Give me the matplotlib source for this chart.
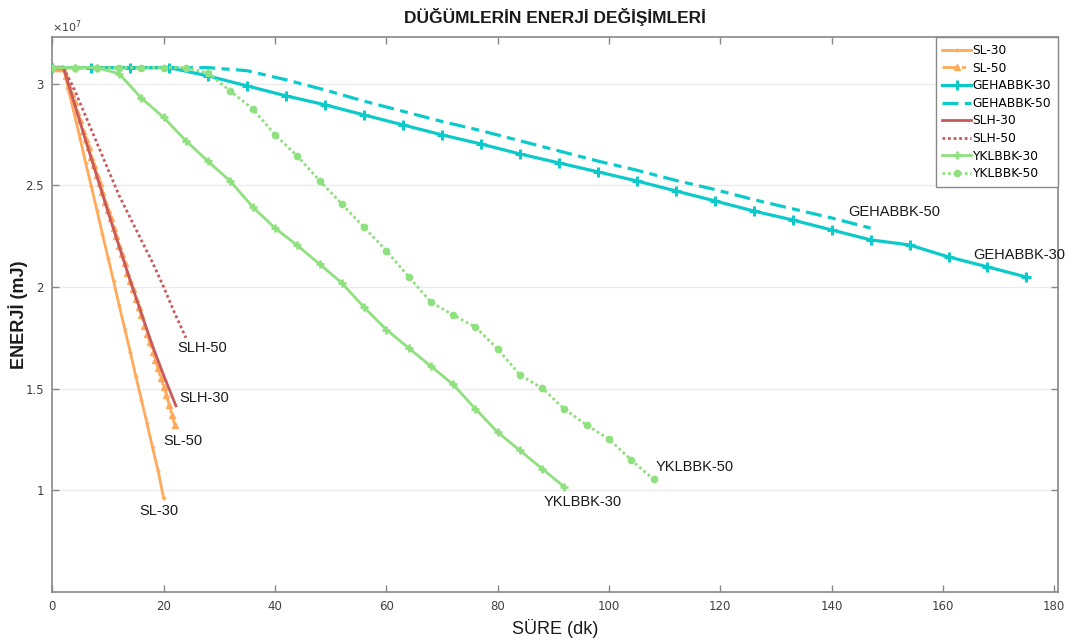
"""Düğümlerin enerji değişimleri: time vs. remaining energy for 8 protocols."""
import matplotlib
matplotlib.use('Agg')
import matplotlib.pyplot as plt

ORANGE = '#FFA95A'
CYAN = '#0CCACA'
RED = '#C85A5C'
GREEN = '#8FE07E'
GREY = '#888888'

# energy values are in units of 1e7 mJ, time in minutes
sl30_x = [0, 1, 2, 3, 4, 5, 6, 7, 8, 9, 10, 11, 12, 13, 14, 15, 16, 17, 18, 19, 20]
sl30_y = [3.08, 3.08, 3.08, 2.96, 2.845, 2.73, 2.61, 2.495, 2.38, 2.26, 2.145,
          2.03, 1.91, 1.795, 1.68, 1.56, 1.445, 1.33, 1.21, 1.095, 0.96]

sl50_x = [0, 0.5, 1, 1.5, 2, 2.5, 3, 3.5, 4, 4.5, 5, 5.5, 6, 6.5, 7, 7.5, 8, 8.5,
          9, 9.5, 10, 10.5, 11, 11.5, 12, 12.5, 13, 13.5, 14, 14.5, 15, 15.5, 16,
          16.5, 17, 17.5, 18, 18.5, 19, 19.5, 20, 20.5, 21, 21.5, 22]
sl50_y = [3.08, 3.08, 3.08, 3.08, 3.08, 3.04, 2.99, 2.95, 2.91, 2.86, 2.82, 2.77,
          2.73, 2.69, 2.64, 2.60, 2.55, 2.51, 2.47, 2.42, 2.38, 2.34, 2.29, 2.25,
          2.20, 2.16, 2.12, 2.07, 2.03, 1.99, 1.94, 1.90, 1.86, 1.81, 1.77, 1.73,
          1.68, 1.64, 1.60, 1.55, 1.51, 1.47, 1.42, 1.37, 1.32]

geh30_x = [0, 7, 14, 21, 28, 35, 42, 49, 56, 63, 70, 77, 84, 91, 98, 105, 112,
           119, 126, 133, 140, 147, 154, 161, 168, 175]
geh30_y = [3.08, 3.08, 3.08, 3.08, 3.039, 2.99, 2.941, 2.897, 2.847, 2.798, 2.749,
           2.704, 2.655, 2.611, 2.567, 2.522, 2.473, 2.424, 2.374, 2.330, 2.281,
           2.232, 2.207, 2.148, 2.099, 2.049]

geh50_x = [0, 7, 14, 21, 28, 35, 42, 49, 56, 63, 70, 77, 84, 91, 98, 105, 112,
           119, 126, 133, 140, 147]
geh50_y = [3.08, 3.08, 3.08, 3.08, 3.08, 3.065, 3.02, 2.97, 2.915, 2.865, 2.815,
           2.77, 2.72, 2.67, 2.62, 2.575, 2.525, 2.48, 2.43, 2.385, 2.34, 2.29]

slh30_x = [0, 2, 4, 6, 8, 10, 12, 14, 16, 18, 20, 22.2]
slh30_y = [3.08, 3.08, 2.90, 2.72, 2.545, 2.37, 2.20, 2.03, 1.87, 1.71, 1.565, 1.415]

slh50_x = [0, 2, 4, 6, 8, 10, 12, 14, 16, 18, 20, 22, 24]
slh50_y = [3.08, 3.08, 2.97, 2.84, 2.71, 2.58, 2.45, 2.34, 2.23, 2.12, 2.00, 1.87, 1.75]

ykl30_x = [0, 4, 8, 12, 16, 20, 24, 28, 32, 36, 40, 44, 48, 52, 56, 60, 64, 68,
           72, 76, 80, 84, 88, 92]
ykl30_y = [3.08, 3.08, 3.08, 3.05, 2.93, 2.835, 2.72, 2.618, 2.52, 2.394, 2.29,
           2.205, 2.113, 2.02, 1.90, 1.79, 1.70, 1.61, 1.52, 1.40, 1.285, 1.195,
           1.105, 1.015]

ykl50_x = [0, 4, 8, 12, 16, 20, 24, 28, 32, 36, 40, 44, 48, 52, 56, 60, 64, 68,
           72, 76, 80, 84, 88, 92, 96, 100, 104, 108]
ykl50_y = [3.08, 3.08, 3.08, 3.08, 3.08, 3.08, 3.08, 3.053, 2.964, 2.877, 2.75,
           2.645, 2.524, 2.409, 2.294, 2.179, 2.051, 1.926, 1.862, 1.803, 1.695,
           1.567, 1.502, 1.399, 1.32, 1.251, 1.148, 1.054]

end_labels = ['SL-30', 'SL-50', 'SLH-30', 'SLH-50',
              'YKLBBK-30', 'YKLBBK-50', 'GEHABBK-50', 'GEHABBK-30']
end_label_x = [15.7, 20.0, 22.9, 22.5, 88.2, 108.3, 143.0, 165.4]
end_label_y = [0.895, 1.24, 1.452, 1.70, 0.94, 1.112, 2.37, 2.158]


def build_chart():
    fig = plt.figure(figsize=(10.79, 6.41), dpi=100, facecolor='white')
    ax = fig.add_axes([0.0485, 0.077, 0.9317, 0.865])

    lw = 2.0
    ax.plot(sl30_x, sl30_y, color=ORANGE, lw=lw, marker='+', ms=3, label='SL-30', zorder=3)
    ax.plot(sl50_x, sl50_y, color=ORANGE, lw=lw, ls=(0, (5, 2, 1.5, 2)), marker='^',
            ms=5, label='SL-50', zorder=3)
    ax.plot(geh30_x, geh30_y, color=CYAN, lw=lw + 0.3, marker='+', ms=7, mew=2.2,
            label='GEHABBK-30', zorder=3)
    ax.plot(geh50_x, geh50_y, color=CYAN, lw=lw + 0.3, ls=(0, (5, 2, 2.5, 2)),
            label='GEHABBK-50', zorder=3)
    ax.plot(slh30_x, slh30_y, color=RED, lw=lw, label='SLH-30', zorder=3)
    ax.plot(slh50_x, slh50_y, color=RED, lw=lw, ls=(0, (1, 1)), label='SLH-50', zorder=3)
    ax.plot(ykl30_x, ykl30_y, color=GREEN, lw=lw, marker='+', ms=6, mew=2.0,
            label='YKLBBK-30', zorder=3)
    ax.plot(ykl50_x, ykl50_y, color=GREEN, lw=lw, ls=(0, (1, 1)), marker='o', ms=4.5,
            label='YKLBBK-50', zorder=3)

    for txt, x, y in zip(end_labels, end_label_x, end_label_y):
        ax.text(x, y, txt, fontsize=10.5, family='Liberation Sans', color='#1a1a1a',
                ha='left', va='center', zorder=4)

    ax.set_xlim(0, 180.6)
    ax.set_ylim(0.5, 3.23)
    ax.set_xticks(range(0, 181, 20))
    ax.set_yticks([1, 1.5, 2, 2.5, 3])
    ax.yaxis.set_major_formatter(plt.FuncFormatter(lambda v, _: f'{v:g}'))
    ax.yaxis.grid(True, color='#ebebeb', lw=1.0, zorder=0)
    ax.set_axisbelow(True)

    for s in ax.spines.values():
        s.set_color(GREY)
        s.set_linewidth(1.2)
    ax.tick_params(direction='in', length=5, width=1, color=GREY, labelcolor='#404040',
                   labelsize=8.5, top=True, right=True, pad=6)

    ax.text(0.0, 1.004, r'$\times 10^{7}$', transform=ax.transAxes, fontsize=8,
            color='#404040', ha='left', va='bottom')

    ax.set_title('DÜĞÜMLERİN ENERJİ DEĞİŞİMLERİ', fontsize=12.5, family='Liberation Sans',
                 fontweight='bold', color='#1a1a1a', pad=10)
    ax.set_xlabel('SÜRE (dk)', fontsize=13, family='Liberation Sans', color='#1a1a1a')
    ax.set_ylabel('ENERJİ (mJ)', fontsize=13, family='Liberation Sans', color='#1a1a1a',
                  fontweight='bold')
    ax.xaxis.set_label_coords(0.5, -0.049)
    ax.yaxis.set_label_coords(-0.024, 0.5)

    leg = ax.legend(loc='upper right', borderaxespad=0.0, fontsize=8.8, handlelength=2.35,
                    handletextpad=0.1, labelspacing=0.38, borderpad=0.55,
                    fancybox=False, framealpha=1, edgecolor=GREY)
    leg.get_frame().set_linewidth(1.0)

    fig.savefig('out.png', dpi=100, facecolor='white')
    plt.close(fig)


if __name__ == '__main__':
    build_chart()
